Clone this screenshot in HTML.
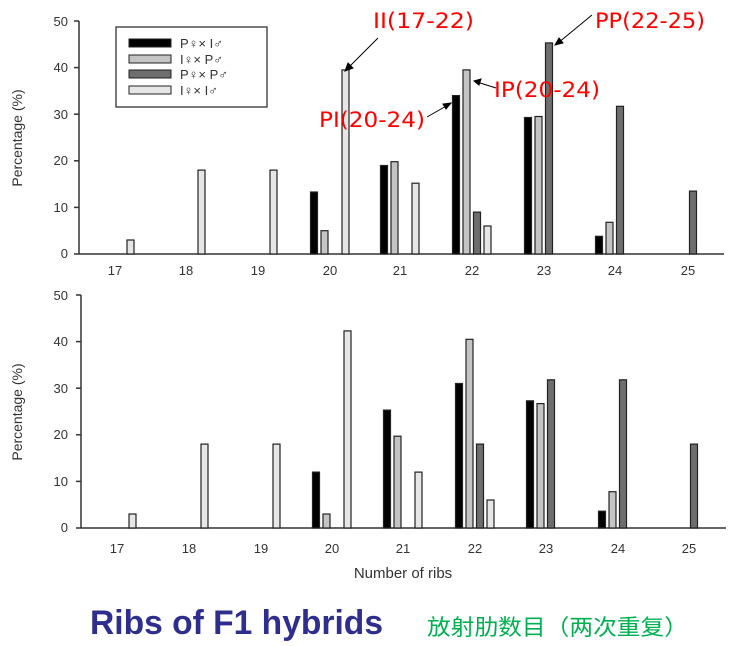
<!DOCTYPE html>
<html><head><meta charset="utf-8"><style>
html,body{margin:0;padding:0;background:#fff;}
svg{display:block;}
</style></head><body>
<svg width="733" height="646" viewBox="0 0 733 646" xmlns="http://www.w3.org/2000/svg" font-family="Liberation Sans, sans-serif">
<rect width="733" height="646" fill="#fff"/>
<g id="top">
<line x1="79" y1="21" x2="79" y2="254" stroke="#333" stroke-width="1.5"/>
<line x1="79" y1="254" x2="724" y2="254" stroke="#333" stroke-width="1.5"/>
<g font-size="13" fill="#333" text-anchor="end">
<text x="68" y="258">0</text><text x="68" y="212">10</text><text x="68" y="165">20</text><text x="68" y="119">30</text><text x="68" y="72">40</text><text x="68" y="26">50</text>
</g>
<g stroke="#333" stroke-width="1.5"><line x1="74" y1="254" x2="79" y2="254"/><line x1="74" y1="207.4" x2="79" y2="207.4"/><line x1="74" y1="160.8" x2="79" y2="160.8"/><line x1="74" y1="114.2" x2="79" y2="114.2"/><line x1="74" y1="67.6" x2="79" y2="67.6"/><line x1="74" y1="21" x2="79" y2="21"/></g>
<text transform="translate(22,138) rotate(-90)" font-size="14" fill="#333" text-anchor="middle">Percentage (%)</text>
<g font-size="13" fill="#333" text-anchor="middle">
<text x="115" y="275">17</text><text x="186" y="275">18</text><text x="258" y="275">19</text><text x="330" y="275">20</text><text x="400" y="275">21</text><text x="472" y="275">22</text><text x="544" y="275">23</text><text x="615" y="275">24</text><text x="688" y="275">25</text>
</g>
</g>
<g id="bottom">
<line x1="81" y1="295" x2="81" y2="528" stroke="#333" stroke-width="1.5"/>
<line x1="81" y1="528" x2="726" y2="528" stroke="#333" stroke-width="1.5"/>
<g font-size="13" fill="#333" text-anchor="end">
<text x="68" y="532">0</text><text x="68" y="486">10</text><text x="68" y="439">20</text><text x="68" y="393">30</text><text x="68" y="346">40</text><text x="68" y="300">50</text>
</g>
<g stroke="#333" stroke-width="1.5"><line x1="76" y1="528" x2="81" y2="528"/><line x1="76" y1="481.4" x2="81" y2="481.4"/><line x1="76" y1="434.8" x2="81" y2="434.8"/><line x1="76" y1="388.2" x2="81" y2="388.2"/><line x1="76" y1="341.6" x2="81" y2="341.6"/><line x1="76" y1="295" x2="81" y2="295"/></g>
<text transform="translate(22,412) rotate(-90)" font-size="14" fill="#333" text-anchor="middle">Percentage (%)</text>
<g font-size="13" fill="#333" text-anchor="middle">
<text x="117" y="553">17</text><text x="189" y="553">18</text><text x="261" y="553">19</text><text x="332" y="553">20</text><text x="403" y="553">21</text><text x="475" y="553">22</text><text x="546" y="553">23</text><text x="618" y="553">24</text><text x="689" y="553">25</text>
</g>
<text x="403" y="578" font-size="15" fill="#333" text-anchor="middle">Number of ribs</text>
</g>
<g stroke="#222" stroke-width="1.2">
<rect x="127" y="240" width="7" height="14" fill="#e6e6e6"/>
<rect x="198" y="170.1" width="7" height="83.9" fill="#e6e6e6"/>
<rect x="270" y="170.1" width="7" height="83.9" fill="#e6e6e6"/>
<rect x="310.5" y="192" width="7" height="62" fill="#000"/>
<rect x="321" y="230.7" width="7" height="23.3" fill="#c4c4c4"/>
<rect x="342" y="69.9" width="7" height="184.1" fill="#e6e6e6"/>
<rect x="380.5" y="165.5" width="7" height="88.5" fill="#000"/>
<rect x="391" y="161.7" width="7" height="92.3" fill="#c4c4c4"/>
<rect x="412" y="183.2" width="7" height="70.8" fill="#e6e6e6"/>
<rect x="452.5" y="95.6" width="7" height="158.4" fill="#000"/>
<rect x="463" y="69.9" width="7" height="184.1" fill="#c4c4c4"/>
<rect x="473.5" y="212.1" width="7" height="41.9" fill="#6e6e6e"/>
<rect x="484" y="226" width="7" height="28" fill="#e6e6e6"/>
<rect x="524.5" y="117.5" width="7" height="136.5" fill="#000"/>
<rect x="535" y="116.5" width="7" height="137.5" fill="#c4c4c4"/>
<rect x="545.5" y="42.9" width="7" height="211.1" fill="#6e6e6e"/>
<rect x="595.5" y="236.3" width="7" height="17.7" fill="#000"/>
<rect x="606" y="222.3" width="7" height="31.7" fill="#c4c4c4"/>
<rect x="616.5" y="106.3" width="7" height="147.7" fill="#6e6e6e"/>
<rect x="689.5" y="191.1" width="7" height="62.9" fill="#6e6e6e"/>
<rect x="129" y="514" width="7" height="14" fill="#e6e6e6"/>
<rect x="201" y="444.1" width="7" height="83.9" fill="#e6e6e6"/>
<rect x="273" y="444.1" width="7" height="83.9" fill="#e6e6e6"/>
<rect x="312.5" y="472.1" width="7" height="55.9" fill="#000"/>
<rect x="323" y="514" width="7" height="14" fill="#c4c4c4"/>
<rect x="344" y="330.9" width="7" height="197.1" fill="#e6e6e6"/>
<rect x="383.5" y="410.1" width="7" height="117.9" fill="#000"/>
<rect x="394" y="436.2" width="7" height="91.8" fill="#c4c4c4"/>
<rect x="415" y="472.1" width="7" height="55.9" fill="#e6e6e6"/>
<rect x="455.5" y="383.5" width="7" height="144.5" fill="#000"/>
<rect x="466" y="339.3" width="7" height="188.7" fill="#c4c4c4"/>
<rect x="476.5" y="444.1" width="7" height="83.9" fill="#6e6e6e"/>
<rect x="487" y="500" width="7" height="28" fill="#e6e6e6"/>
<rect x="526.5" y="400.8" width="7" height="127.2" fill="#000"/>
<rect x="537" y="403.6" width="7" height="124.4" fill="#c4c4c4"/>
<rect x="547.5" y="379.8" width="7" height="148.2" fill="#6e6e6e"/>
<rect x="598.5" y="511.2" width="7" height="16.8" fill="#000"/>
<rect x="609" y="491.7" width="7" height="36.3" fill="#c4c4c4"/>
<rect x="619.5" y="379.8" width="7" height="148.2" fill="#6e6e6e"/>
<rect x="690.5" y="444.1" width="7" height="83.9" fill="#6e6e6e"/>
</g>
<g id="legend">
<rect x="116" y="27" width="151" height="80" fill="#fff" stroke="#333" stroke-width="1.3"/>
<rect x="129" y="39" width="42" height="8" fill="#000" stroke="#222"/>
<rect x="129" y="55" width="42" height="8" fill="#c4c4c4" stroke="#222"/>
<rect x="129" y="70" width="42" height="8" fill="#6e6e6e" stroke="#222"/>
<rect x="129" y="86" width="42" height="8" fill="#e6e6e6" stroke="#222"/>
<g font-size="13" fill="#333"><text x="180" y="48">P♀× I♂</text><text x="180" y="64">I♀× P♂</text><text x="180" y="79">P♀× P♂</text><text x="180" y="95">I♀× I♂</text></g>
</g>
<g font-family="DejaVu Sans, sans-serif" font-size="21" fill="#ff0000">
<text x="373" y="28" textLength="101" lengthAdjust="spacingAndGlyphs">II(17-22)</text>
<text x="595" y="28" textLength="110" lengthAdjust="spacingAndGlyphs">PP(22-25)</text>
<text x="494" y="97" textLength="106" lengthAdjust="spacingAndGlyphs">IP(20-24)</text>
<text x="319" y="127" textLength="106" lengthAdjust="spacingAndGlyphs">PI(20-24)</text>
</g>
<g stroke="#000" stroke-width="1" fill="#000">
<line x1="378" y1="38" x2="347" y2="69"/><polygon points="345,71 348,63 353,68"/>
<line x1="592" y1="15" x2="558" y2="43"/><polygon points="555,45 559,38 563,43"/>
<line x1="496" y1="88" x2="477" y2="82"/><polygon points="474,81 481,79 479,85"/>
<line x1="427" y1="117" x2="448" y2="105"/><polygon points="451,103 446,109 443,104"/>
</g>
<text x="90" y="634" font-size="34" font-weight="bold" fill="#2e2e8f" textLength="293" lengthAdjust="spacingAndGlyphs">Ribs of F1 hybrids</text>
<text x="427" y="635" font-family="Liberation Sans, Noto Sans CJK SC, sans-serif" font-size="22" fill="#00b050" textLength="261" lengthAdjust="spacingAndGlyphs">放射肋数目（两次重复）</text>
</svg>
</body></html>
